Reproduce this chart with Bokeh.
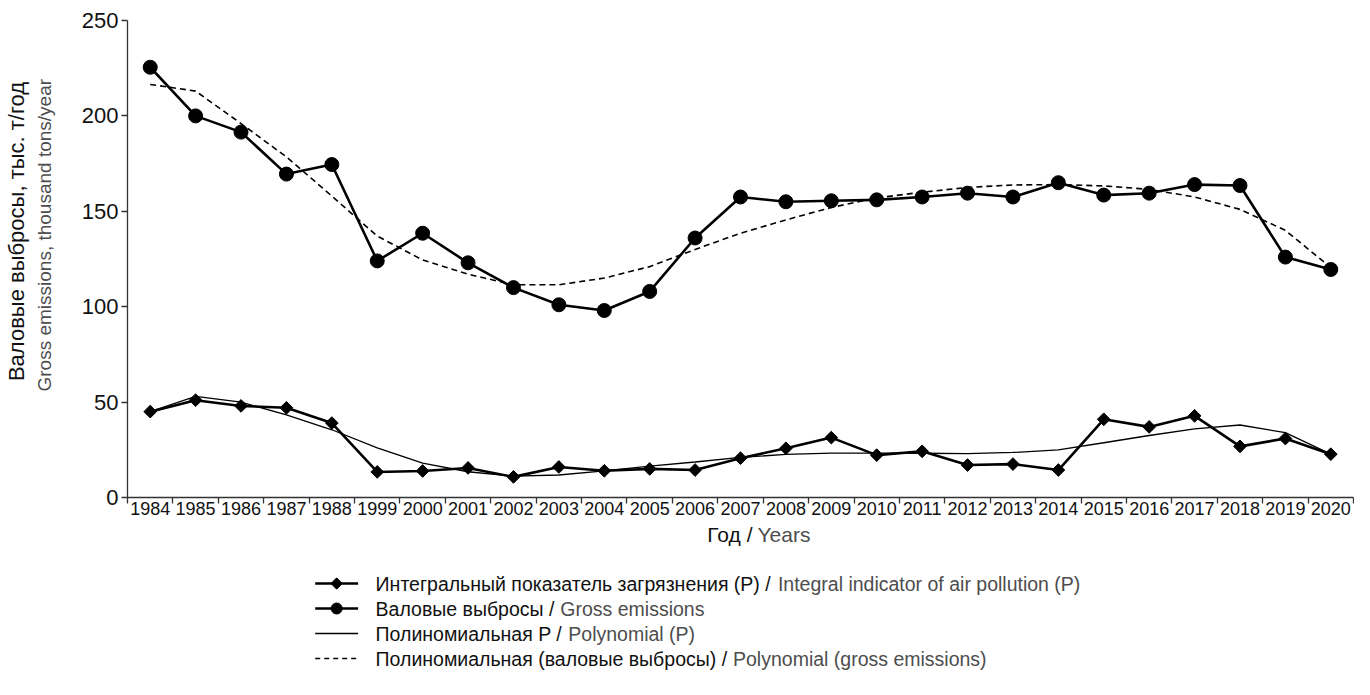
import math
from bokeh.plotting import figure
from bokeh.models import (FactorRange, Range1d, LinearAxis, CategoricalAxis,
                          FixedTicker, ColumnDataSource, CustomJSTickFormatter)
from bokeh.layouts import column
from bokeh.embed import file_html
from bokeh.resources import INLINE
from bokeh.core.properties import value

# ---------------- data ----------------
years = ["1984", "1985", "1986", "1987", "1988", "1999", "2000", "2001", "2002",
         "2003", "2004", "2005", "2006", "2007", "2008", "2009", "2010", "2011",
         "2012", "2013", "2014", "2015", "2016", "2017", "2018", "2019", "2020"]
gross_emissions = [225.5, 200, 191.5, 169.5, 174.5, 124, 138.5, 123, 110,
                   101, 98, 108, 136, 157.5, 155, 155.5, 156, 157.5,
                   159.5, 157.5, 165, 158.5, 159.5, 164, 163.5, 126, 119.5]
integral_p = [45, 51, 48, 47, 39, 13.4, 13.9, 15.5, 10.8,
              16, 14, 15, 14.4, 20.6, 25.8, 31.4, 22.2, 24.2,
              17, 17.5, 14.4, 41, 37, 42.8, 26.8, 30.9, 22.7]
trend_gross = [216.5, 213, 196, 178.5, 158, 137, 124.5, 117, 111.5,
               111.5, 115, 121, 130, 138.5, 145.5, 152, 157, 160,
               162.5, 163.8, 164, 163.3, 161.5, 157.5, 151, 140, 120.5]
trend_p = [45, 53, 50, 43.3, 35.5, 26, 18, 13.5, 11.2,
           11.8, 14, 16.4, 18.6, 21, 22.6, 23.3, 23.3, 23.2,
           23, 23.6, 25, 28.7, 32.5, 36, 38, 34, 22.7]
y_ticks = [0, 50, 100, 150, 200, 250]

y_label_ru = "Валовые выбросы, тыс. т/год"
y_label_en = "Gross emissions, thousand tons/year"
x_label_ru = "Год /"
x_label_en = "Years"
legend_ru = ["Интегральный показатель загрязнения (P) /",
             "Валовые выбросы /",
             "Полиномиальная P /",
             "Полиномиальная (валовые выбросы) /"]
legend_en = ["Integral indicator of air pollution (P)",
             "Gross emissions",
             "Polynomial (P)",
             "Polynomial (gross emissions)"]

# ---------------- style ----------------
FONT = "Liberation Sans"
AX = "#333333"
INK = "#111111"
GREY = "#4d4d4d"
NB = "\u00a0"            # leading no-break spaces lift the rotated titles above centre
W = 1354
H1 = 523
H2 = 679 - H1
FL, FR, FT, FB = 125, 1353, 20, 497   # frame edges in page pixels

src = ColumnDataSource(dict(year=years, gross=gross_emissions, p=integral_p,
                            tg=trend_gross, tp=trend_p))

p = figure(width=W, height=H1, x_range=FactorRange(factors=years),
           y_range=Range1d(0, 250), x_axis_location=None, y_axis_location=None,
           output_backend="svg", toolbar_location=None,
           min_border_left=FL, min_border_right=W - FR, min_border_top=FT,
           min_border_bottom=H1 - FB)
p.outline_line_color = None
p.grid.visible = False

# y axis (ticks + English title) and an outer bare axis carrying the Russian title
yax = LinearAxis(ticker=FixedTicker(ticks=y_ticks),
                 axis_line_color=AX, axis_line_width=1.3,
                 major_tick_line_color=AX, major_tick_line_width=1.3,
                 major_tick_out=6, major_tick_in=0,
                 minor_tick_line_color=None,
                 major_label_text_font=FONT, major_label_text_font_size="22px",
                 major_label_text_color=INK, major_label_standoff=3,
                 axis_label=NB * 9 + y_label_en, axis_label_text_font=FONT,
                 axis_label_text_font_size="19px", axis_label_text_font_style="normal",
                 axis_label_text_color=GREY, axis_label_standoff=24)
p.add_layout(yax, "left")
yax_ru = LinearAxis(ticker=FixedTicker(ticks=[]),
                    axis_line_color=None, major_tick_line_color=None,
                    minor_tick_line_color=None, major_tick_out=0, major_tick_in=0,
                    axis_label=NB * 9 + y_label_ru, axis_label_text_font=FONT,
                    axis_label_text_font_size="22px", axis_label_text_font_style="normal",
                    axis_label_text_color=INK, axis_label_standoff=2)
p.add_layout(yax_ru, "left")

# x axis: ticks at category edges (synthetic coords 0..N) + labels at category centres
edge_ax = LinearAxis(ticker=FixedTicker(ticks=list(range(len(years) + 1))),
                     formatter=CustomJSTickFormatter(code="return ''"),
                     axis_line_color=AX, axis_line_width=1.3,
                     major_tick_line_color=AX, major_tick_line_width=1.3,
                     major_tick_out=6, major_tick_in=0,
                     minor_tick_line_color=None,
                     major_label_text_font_size="1px", major_label_standoff=0)
p.add_layout(edge_ax, "below")
cat_ax = CategoricalAxis(axis_line_color=None, major_tick_line_color=None,
                         major_tick_out=0, major_tick_in=0,
                         major_label_text_font=FONT, major_label_text_font_size="18px",
                         major_label_text_color=INK, major_label_standoff=-2)
p.add_layout(cat_ax, "below")

# series
p.line("year", "tg", source=src, line_color="black", line_width=1.6, line_dash="6 4")
p.line("year", "tp", source=src, line_color="black", line_width=1.3)
p.line("year", "gross", source=src, line_color="black", line_width=2.6)
p.scatter("year", "gross", source=src, marker="circle", size=14,
          fill_color="black", line_color="black")
p.line("year", "p", source=src, line_color="black", line_width=2.6)
p.scatter("year", "p", source=src, marker="square", angle=math.pi / 4, size=9,
          fill_color="black", line_color="black")

# ---------------- lower panel: x title + legend (page pixel coordinates) ----------------
# the column aligns this panel's frame with the chart frame (FL..FR)
lf = figure(width=W, height=H2, x_range=Range1d(FL, FR), y_range=Range1d(H1 + H2, H1),
            x_axis_location=None, y_axis_location=None, output_backend="svg",
            toolbar_location=None, min_border=0)
lf.outline_line_color = None
lf.grid.visible = False

lf.text(x=[751], y=[534], text=[x_label_ru], text_font=value(FONT), text_font_size="21px",
        text_align="right", text_baseline="middle", text_color=INK)
lf.text(x=[756], y=[534], text=[x_label_en], text_font=value(FONT), text_font_size="21px",
        text_align="left", text_baseline="middle", text_color=GREY)

rows_y = [583, 608, 633, 658]
sx0, sx1, sxm = 313, 356, 334.5
lf.segment(x0=[sx0], y0=[rows_y[0]], x1=[sx1], y1=[rows_y[0]], line_color="black", line_width=2.6)
lf.scatter(x=[sxm], y=[rows_y[0]], marker="square", angle=math.pi / 4, size=8, color="black")
lf.segment(x0=[sx0], y0=[rows_y[1]], x1=[sx1], y1=[rows_y[1]], line_color="black", line_width=2.6)
lf.scatter(x=[sxm], y=[rows_y[1]], marker="circle", size=11, color="black")
lf.segment(x0=[sx0], y0=[rows_y[2]], x1=[sx1], y1=[rows_y[2]], line_color="black", line_width=1.3)
lf.segment(x0=[sx0], y0=[rows_y[3]], x1=[sx1], y1=[rows_y[3]], line_color="black",
           line_width=1.5, line_dash="5 4")

en_x = [776.5, 558.5, 566.5, 731.5]
lf.text(x=[373.5] * 4, y=rows_y, text=legend_ru, text_font=value(FONT),
        text_font_size="19.5px", text_baseline="middle", text_color=INK)
lf.text(x=en_x, y=rows_y, text=legend_en, text_font=value(FONT),
        text_font_size="19.5px", text_baseline="middle", text_color=GREY)

layout = column(p, lf)
open("out.html", "w").write(file_html(layout, INLINE))
